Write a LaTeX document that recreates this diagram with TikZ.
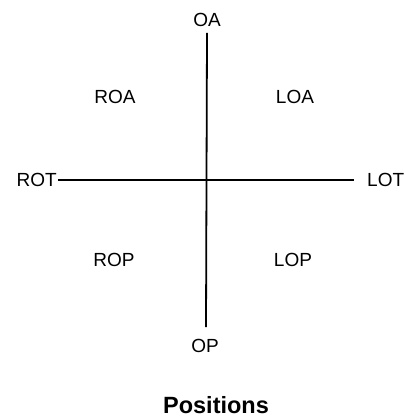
\documentclass[tikz,border=0pt]{standalone}
\usepackage{fontspec}
\setmainfont{Liberation Sans}
\usetikzlibrary{positioning}

\begin{document}
\begin{tikzpicture}[x=1pt,y=-1pt,lbl/.style={font=\fontsize{19}{19}\selectfont}]
  \useasboundingbox (0,0) rectangle (404,419);
  % axis ends
  \coordinate (top) at (207,33);
  \coordinate (bot) at (206,327);
  \coordinate (lft) at (58,180);
  \coordinate (rgt) at (354,180);
  % end labels
  \node (oa)  [lbl] at (207,20) {OA};
  \node (op)  [lbl] at (205,346) {OP};
  \node (rot) [lbl, anchor=east, inner sep=1pt] at (lft) {ROT};
  \node (lot) [lbl, anchor=west, inner sep=1pt] at (366,180) {LOT};
  % quadrants
  \node (roa) [lbl] at (115,97) {ROA};
  \node (loa) [lbl] at (295,97) {LOA};
  \node (rop) [lbl] at (114,260) {ROP};
  \node (lop) [lbl] at (293,260) {LOP};
  \node (title) [font=\bfseries\fontsize{23.5}{23.5}\selectfont] at (216,405) {Positions};

  % axes
  \draw[line width=1.8pt] (top) -- (bot);
  \draw[line width=1.8pt] (lft) -- (rgt);
\end{tikzpicture}
\end{document}
